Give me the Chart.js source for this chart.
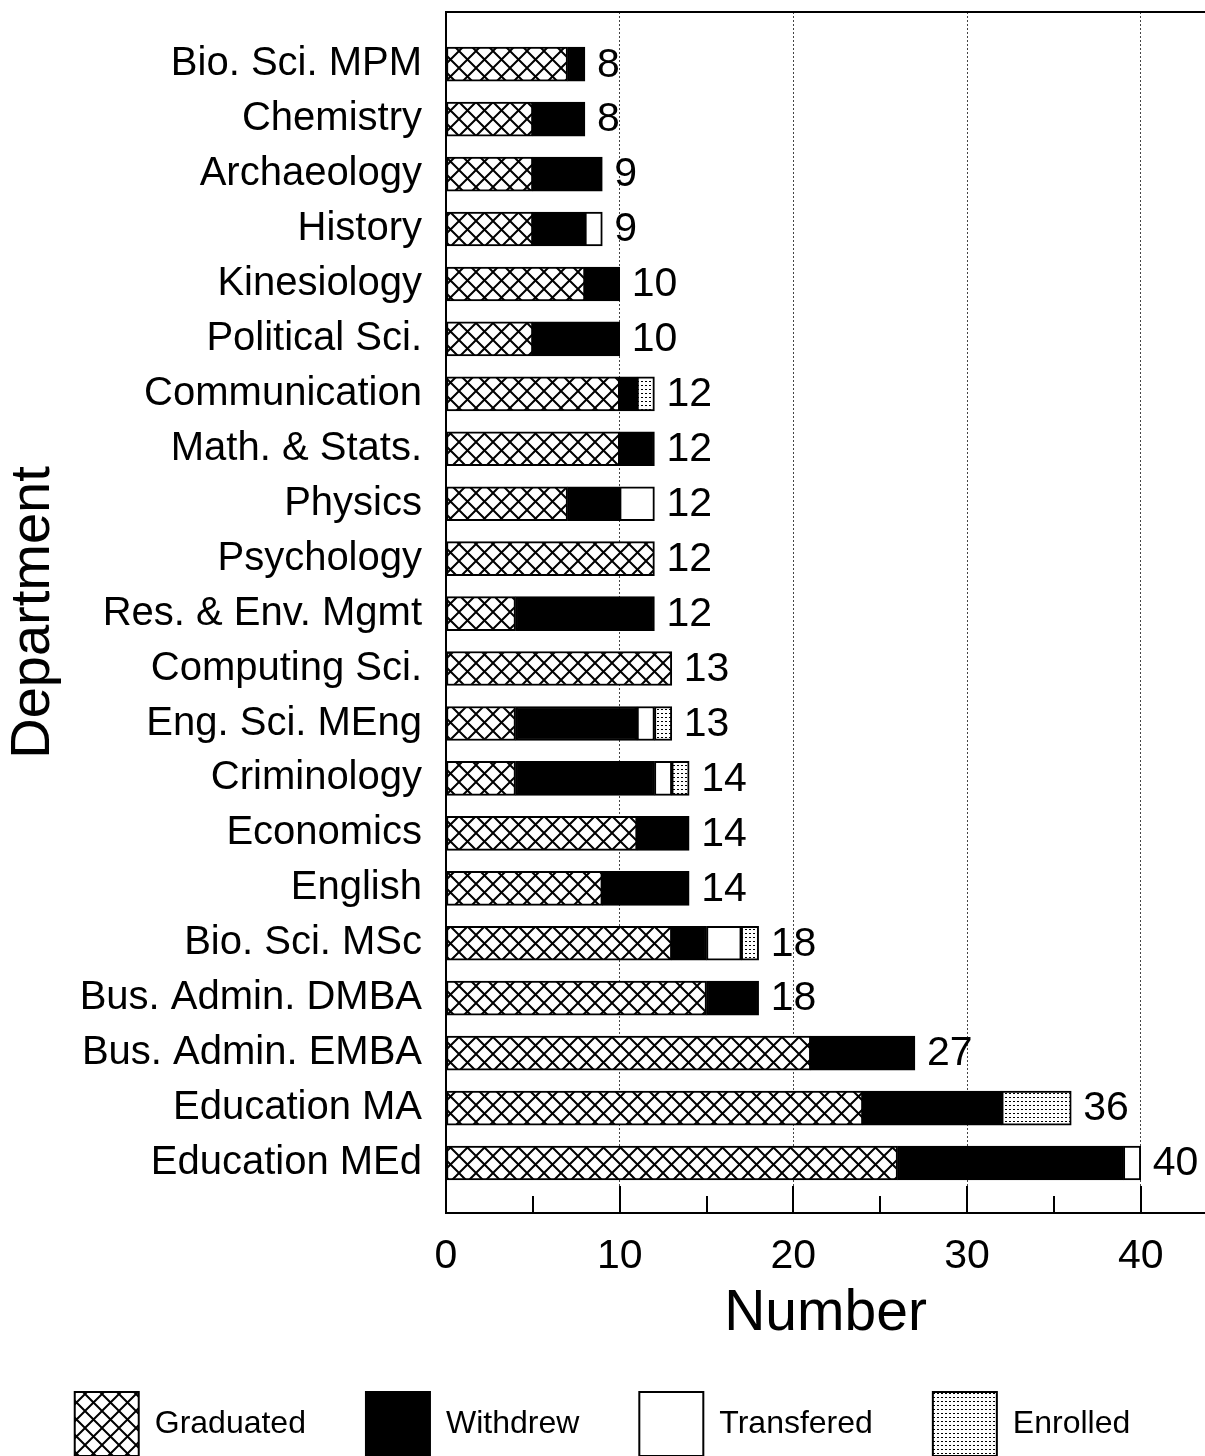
<!DOCTYPE html>
<html>
<head>
<meta charset="utf-8">
<script src="https://cdn.jsdelivr.net/npm/chart.js@4.4.0/dist/chart.umd.min.js"></script>
<style>
  body { margin: 0; background: #fff; }
  #wrap { width: 1205px; height: 1456px; }
</style>
</head>
<body>
<div id="wrap"><canvas id="chart"></canvas></div>
<script>
const departments = ['Bio. Sci. MPM', 'Chemistry', 'Archaeology', 'History', 'Kinesiology', 'Political Sci.',
  'Communication', 'Math. & Stats.', 'Physics', 'Psychology', 'Res. & Env. Mgmt', 'Computing Sci.',
  'Eng. Sci. MEng', 'Criminology', 'Economics', 'English', 'Bio. Sci. MSc', 'Bus. Admin. DMBA',
  'Bus. Admin. EMBA', 'Education MA', 'Education MEd'];
const graduated  = [7, 5, 5, 5, 8, 5, 10, 10, 7, 12, 4, 13, 4, 4, 11, 9, 13, 15, 21, 24, 26];
const withdrew   = [1, 3, 4, 3, 2, 5, 1, 2, 3, 0, 8, 0, 7, 8, 3, 5, 2, 3, 6, 8, 13];
const transfered = [0, 0, 0, 1, 0, 0, 0, 0, 2, 0, 0, 0, 1, 1, 0, 0, 2, 0, 0, 0, 1];
const enrolled   = [0, 0, 0, 0, 0, 0, 1, 0, 0, 0, 0, 0, 1, 1, 0, 0, 1, 0, 0, 4, 0];
const xTicks = [0, 5, 10, 15, 20, 25, 30, 35, 40];

const totals = departments.map((d, i) => graduated[i] + withdrew[i] + transfered[i] + enrolled[i]);
const FONT = '"Liberation Sans", Arial, sans-serif';

function hatchPattern() {
  const s = 17;
  const c = document.createElement('canvas');
  c.width = s; c.height = s;
  const g = c.getContext('2d');
  g.fillStyle = '#fff';
  g.fillRect(0, 0, s, s);
  g.strokeStyle = '#000';
  g.lineWidth = 2;
  g.beginPath();
  for (const o of [-s, 0, s]) {
    g.moveTo(o, 0); g.lineTo(o + s, s);
    g.moveTo(o + s, 0); g.lineTo(o, s);
  }
  g.stroke();
  return g.createPattern(c, 'repeat');
}

function dotPattern() {
  const c = document.createElement('canvas');
  c.width = 4; c.height = 4;
  const g = c.getContext('2d');
  g.fillStyle = '#fff';
  g.fillRect(0, 0, 4, 4);
  g.fillStyle = '#000';
  g.fillRect(1, 1, 2, 1);
  return g.createPattern(c, 'repeat');
}

function series(vals) {
  return vals.map((v, i) => ({ y: i, x: v === 0 ? null : v }));
}

const totalsPlugin = {
  id: 'totals',
  afterDatasetsDraw(chart) {
    const { ctx, scales: { x, y } } = chart;
    ctx.save();
    ctx.font = '41px ' + FONT;
    ctx.fillStyle = '#000';
    ctx.textBaseline = 'middle';
    ctx.textAlign = 'left';
    totals.forEach((t, i) => ctx.fillText(String(t), x.getPixelForValue(t) + 12, y.getPixelForValue(i) + 1));
    ctx.restore();
  }
};

const framePlugin = {
  id: 'frame',
  afterDraw(chart) {
    const { ctx, chartArea: a, scales: { x } } = chart;
    ctx.save();
    ctx.strokeStyle = '#000';
    ctx.lineWidth = 2;
    ctx.beginPath();
    ctx.moveTo(a.left - 1, a.top);
    ctx.lineTo(a.right + 2, a.top);
    xTicks.forEach(v => {
      if (v === 0) return;
      const px = Math.round(x.getPixelForValue(v));
      ctx.moveTo(px, a.bottom);
      ctx.lineTo(px, a.bottom - (v % 10 === 0 ? 27 : 17));
    });
    ctx.stroke();
    ctx.restore();
  }
};

const G = hatchPattern();
const D = dotPattern();
const common = { borderColor: '#000', borderWidth: 2, borderSkipped: false, barThickness: 34 };

new Chart(document.getElementById('chart'), {
  type: 'bar',
  data: {
    datasets: [
      { label: 'Graduated', data: series(graduated), backgroundColor: G, ...common },
      { label: 'Withdrew', data: series(withdrew), backgroundColor: '#000', ...common },
      { label: 'Transfered', data: series(transfered), backgroundColor: '#fff', ...common },
      { label: 'Enrolled', data: series(enrolled), backgroundColor: D, ...common }
    ]
  },
  options: {
    indexAxis: 'y',
    responsive: true,
    maintainAspectRatio: false,
    animation: false,
    layout: { padding: { top: 12, left: 0, right: 0, bottom: -10 } },
    scales: {
      x: {
        type: 'linear',
        stacked: true,
        min: 0,
        max: 43.7,
        afterBuildTicks: s => { s.ticks = xTicks.map(v => ({ value: v })); },
        afterFit: s => { s.height = 119; s.paddingLeft = 0; s.paddingRight = 0; },
        grid: {
          drawTicks: false,
          lineWidth: 1,
          color: c => (c.tick && c.tick.value % 10 === 0 && c.tick.value !== 0) ? '#444' : 'rgba(0,0,0,0)'
        },
        border: { display: true, color: '#000', width: 2, dash: [2, 2] },
        ticks: {
          color: '#000',
          padding: 19,
          autoSkip: false,
          maxRotation: 0,
          font: { family: FONT, size: 41 },
          callback: v => (v % 10 === 0 ? v : '')
        },
        title: {
          display: true,
          text: 'Number',
          color: '#000',
          font: { family: FONT, size: 57, lineHeight: 1 },
          padding: { top: 0, bottom: -11 }
        }
      },
      y: {
        type: 'linear',
        stacked: true,
        reverse: true,
        offset: false,
        min: -0.95,
        max: 20.91,
        afterBuildTicks: s => { s.ticks = departments.map((d, i) => ({ value: i })); },
        afterFit: s => { s.width = 446; s.paddingTop = 0; s.paddingBottom = 0; },
        grid: { display: false, drawTicks: false },
        border: { display: true, color: '#000', width: 2 },
        ticks: {
          color: '#000',
          padding: 24,
          autoSkip: false,
          font: { family: FONT, size: 40 },
          callback: v => departments[v]
        },
        title: {
          display: true,
          text: 'Department',
          color: '#000',
          font: { family: FONT, size: 56, lineHeight: 1 },
          padding: { top: 6, bottom: 0 }
        }
      }
    },
    plugins: {
      legend: {
        position: 'bottom',
        labels: {
          boxWidth: 64,
          boxHeight: 64,
          padding: 60,
          color: '#000',
          font: { family: FONT, size: 32 }
        }
      },
      tooltip: { enabled: false }
    }
  },
  plugins: [totalsPlugin, framePlugin]
});
</script>
</body>
</html>
